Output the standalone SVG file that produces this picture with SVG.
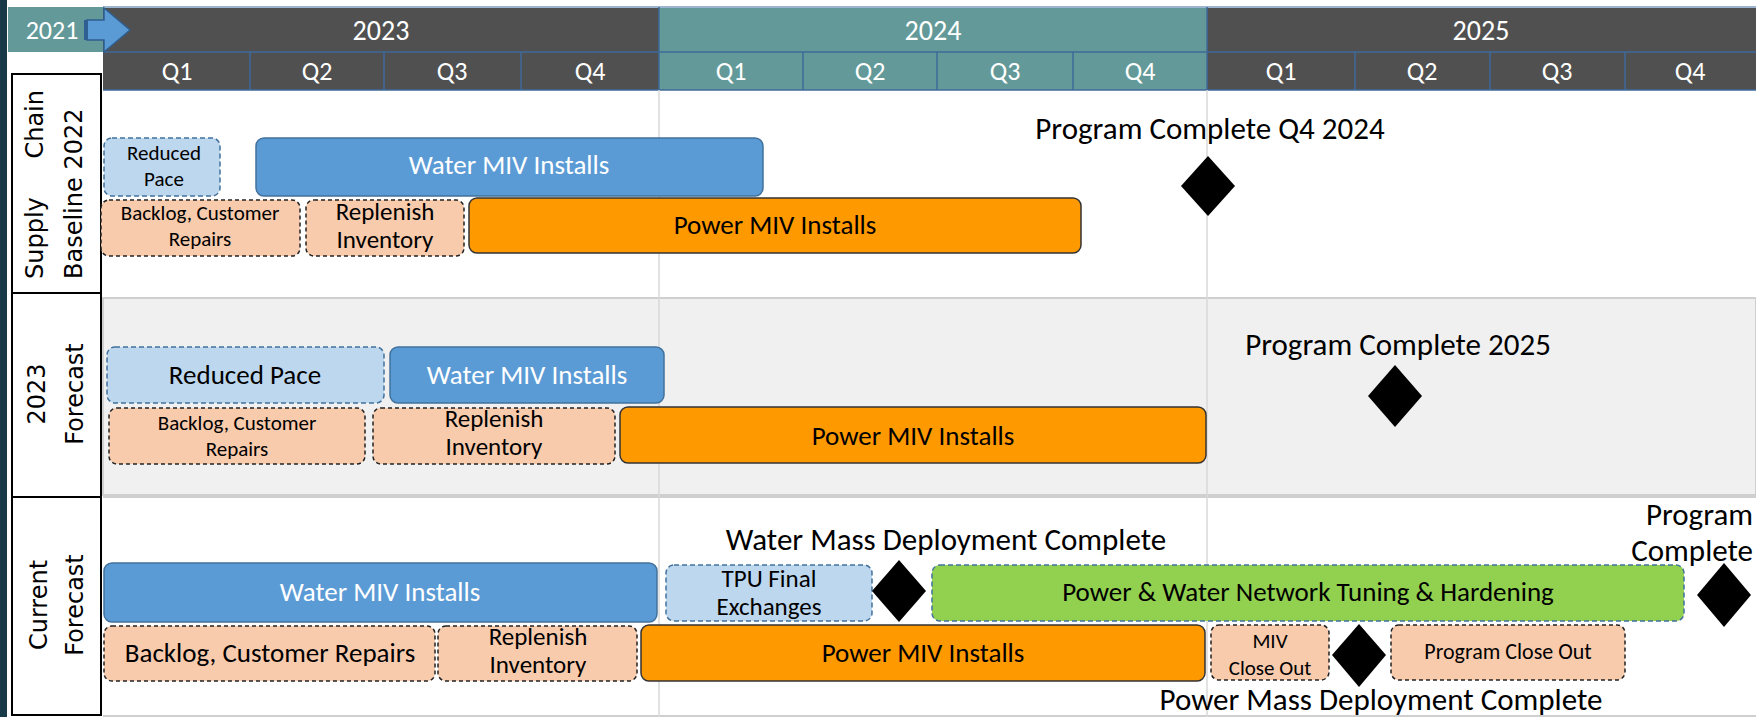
<svg xmlns="http://www.w3.org/2000/svg" width="1756" height="717" viewBox="0 0 1756 717">
<style>
text{font-family:Carlito,"Liberation Sans Narrow","Liberation Sans",sans-serif;}
.hdr{fill:#fff;font-size:28px;text-anchor:middle}
.q{fill:#fff;font-size:26px;text-anchor:middle}
.lbl{font-family:"DejaVu Sans",Verdana,sans-serif;font-size:24px;fill:#000}
.t{text-anchor:middle;fill:#000;font-size:27px}
.s{font-size:21px}
.r{font-size:25px}
.w{fill:#fff}
.ms{font-size:31px;fill:#000}
.lb{fill:#bdd7ee;stroke:#41719c;stroke-width:1.5;stroke-dasharray:5 3}
.bl{fill:#5b9bd5;stroke:#41719c;stroke-width:1.5}
.pc{fill:#f8cbad;stroke:#222;stroke-width:1.5;stroke-dasharray:4 3}
.or{fill:#ff9900;stroke:#333;stroke-width:1.5}
.gr{fill:#92d050;stroke:#41719c;stroke-width:1.5;stroke-dasharray:5 3}
.dm{fill:#000}
.qd{stroke:#3e6a9a;stroke-width:1.5}
</style>
<rect width="1756" height="717" fill="#fff"/>
<rect x="0" y="0" width="7" height="717" fill="#183a48"/>

<!-- header -->
<g id="header">
  <rect x="103" y="8" width="556" height="44" fill="#505050"/>
  <rect x="659" y="8" width="548" height="44" fill="#639a99"/>
  <rect x="1207" y="8" width="549" height="44" fill="#505050"/>
  <rect x="103" y="52" width="556" height="38" fill="#505050"/>
  <rect x="659" y="52" width="548" height="38" fill="#639a99"/>
  <rect x="1207" y="52" width="549" height="38" fill="#505050"/>
  <line x1="103" y1="7" x2="1756" y2="7" stroke="#7a9cc0" stroke-width="1.5"/>
  <line x1="103" y1="52" x2="1756" y2="52" class="qd"/>
  <line x1="103" y1="90" x2="1756" y2="90" class="qd"/>
  <line x1="659" y1="7" x2="659" y2="90" class="qd"/>
  <line x1="1207" y1="7" x2="1207" y2="90" class="qd"/>
  <line x1="250" y1="52" x2="250" y2="90" class="qd"/>
  <line x1="384" y1="52" x2="384" y2="90" class="qd"/>
  <line x1="521" y1="52" x2="521" y2="90" class="qd"/>
  <line x1="803" y1="52" x2="803" y2="90" class="qd"/>
  <line x1="937" y1="52" x2="937" y2="90" class="qd"/>
  <line x1="1073" y1="52" x2="1073" y2="90" class="qd"/>
  <line x1="1355" y1="52" x2="1355" y2="90" class="qd"/>
  <line x1="1490" y1="52" x2="1490" y2="90" class="qd"/>
  <line x1="1625" y1="52" x2="1625" y2="90" class="qd"/>
  <text class="hdr" x="381" y="40">2023</text>
  <text class="hdr" x="933" y="40">2024</text>
  <text class="hdr" x="1481" y="40">2025</text>
  <text class="q" x="177" y="80">Q1</text>
  <text class="q" x="317" y="80">Q2</text>
  <text class="q" x="452" y="80">Q3</text>
  <text class="q" x="590" y="80">Q4</text>
  <text class="q" x="731" y="80">Q1</text>
  <text class="q" x="870" y="80">Q2</text>
  <text class="q" x="1005" y="80">Q3</text>
  <text class="q" x="1140" y="80">Q4</text>
  <text class="q" x="1281" y="80">Q1</text>
  <text class="q" x="1422" y="80">Q2</text>
  <text class="q" x="1557" y="80">Q3</text>
  <text class="q" x="1690" y="80">Q4</text>
</g>
<g id="start2021">
  <rect x="8" y="7" width="95" height="45" fill="#639a99"/>
  <text x="52" y="39" style="fill:#fff;font-size:26px;text-anchor:middle">2021</text>
  <polygon points="87,20 104,20 104,8 130,30 104,52 104,40 87,40" fill="#5b9bd5" stroke="#2f5f90" stroke-width="1.5"/>
  <rect x="84" y="20" width="4" height="20" fill="#2f5f90"/>
</g>

<!-- row backgrounds -->
<rect x="103" y="298" width="1653" height="197" fill="#f0f0f0" stroke="#cfcfcf" stroke-width="2"/>
<line x1="103" y1="497" x2="1756" y2="497" stroke="#cfcfcf" stroke-width="2"/>
<line x1="103" y1="716" x2="1756" y2="716" stroke="#cfcfcf" stroke-width="2"/>
<line x1="659" y1="90" x2="659" y2="717" stroke="#d9d9d9" stroke-width="1.5"/>
<line x1="1207" y1="90" x2="1207" y2="717" stroke="#d9d9d9" stroke-width="1.5"/>

<!-- row labels -->
<g id="label-row1">
  <rect x="12" y="74" width="89" height="219" fill="#fff" stroke="#000" stroke-width="2"/>
  <text class="lbl" transform="rotate(-90)"><tspan x="-279" y="43">Supply</tspan><tspan x="-90" y="43" text-anchor="end">Chain</tspan><tspan x="-279" y="82">Baseline 2022</tspan></text>
</g>
<g id="label-row2">
  <rect x="12" y="293" width="89" height="204" fill="#fff" stroke="#000" stroke-width="2"/>
  <text class="lbl" transform="rotate(-90)" text-anchor="middle"><tspan x="-394" y="45">2023</tspan><tspan x="-394" y="83">Forecast</tspan></text>
</g>
<g id="label-row3">
  <rect x="12" y="497" width="89" height="218" fill="#fff" stroke="#000" stroke-width="2"/>
  <text class="lbl" transform="rotate(-90)" text-anchor="middle"><tspan x="-605" y="47">Current</tspan><tspan x="-605" y="83">Forecast</tspan></text>
</g>

<!-- row 1 -->
<g id="r1-reduced"><rect class="lb" x="104" y="138" width="116" height="58" rx="8"/><text class="t s"><tspan x="164" y="160">Reduced</tspan><tspan x="164" y="186">Pace</tspan></text></g>
<g id="r1-water"><rect class="bl" x="256" y="138" width="507" height="58" rx="8"/><text class="t w" x="509" y="174">Water MIV Installs</text></g>
<g id="r1-backlog"><rect class="pc" x="101" y="200" width="199" height="56" rx="8"/><text class="t s"><tspan x="200" y="220">Backlog, Customer</tspan><tspan x="200" y="246">Repairs</tspan></text></g>
<g id="r1-replenish"><rect class="pc" x="306" y="200" width="158" height="56" rx="8"/><text class="t r"><tspan x="385" y="220">Replenish</tspan><tspan x="385" y="248">Inventory</tspan></text></g>
<g id="r1-power"><rect class="or" x="469" y="198" width="612" height="55" rx="8"/><text class="t" x="775" y="234">Power MIV Installs</text></g>
<g id="r1-ms"><text class="t ms" x="1210" y="139">Program Complete Q4 2024</text><polygon class="dm" points="1208,156 1235,186 1208,216 1181,186"/></g>

<!-- row 2 -->
<g id="r2-reduced"><rect class="lb" x="107" y="347" width="277" height="56" rx="8"/><text class="t" x="245" y="384">Reduced Pace</text></g>
<g id="r2-water"><rect class="bl" x="390" y="347" width="274" height="56" rx="8"/><text class="t w" x="527" y="384">Water MIV Installs</text></g>
<g id="r2-backlog"><rect class="pc" x="109" y="408" width="256" height="56" rx="8"/><text class="t s"><tspan x="237" y="430">Backlog, Customer</tspan><tspan x="237" y="456">Repairs</tspan></text></g>
<g id="r2-replenish"><rect class="pc" x="373" y="408" width="242" height="56" rx="8"/><text class="t r"><tspan x="494" y="427">Replenish</tspan><tspan x="494" y="455">Inventory</tspan></text></g>
<g id="r2-power"><rect class="or" x="620" y="407" width="586" height="56" rx="8"/><text class="t" x="913" y="445">Power MIV Installs</text></g>
<g id="r2-ms"><text class="t ms" x="1398" y="355">Program Complete 2025</text><polygon class="dm" points="1395,365 1422,396 1395,427 1368,396"/></g>

<!-- row 3 -->
<g id="r3-water"><rect class="bl" x="104" y="563" width="553" height="59" rx="8"/><text class="t w" x="380" y="601">Water MIV Installs</text></g>
<g id="r3-tpu"><rect class="lb" x="666" y="565" width="206" height="56" rx="8"/><text class="t r"><tspan x="769" y="587">TPU Final</tspan><tspan x="769" y="615">Exchanges</tspan></text></g>
<g id="r3-wmdc"><text class="t ms" x="946" y="550">Water Mass Deployment Complete</text><polygon class="dm" points="899,560 926,591 899,622 872,591"/></g>
<g id="r3-tuning"><rect class="gr" x="932" y="565" width="752" height="56" rx="8"/><text class="t" x="1308" y="601">Power &amp; Water Network Tuning &amp; Hardening</text></g>
<g id="r3-pc"><text class="ms" text-anchor="end"><tspan x="1753" y="525">Program</tspan><tspan x="1753" y="561">Complete</tspan></text><polygon class="dm" points="1724,563 1751,595 1724,627 1697,595"/></g>
<g id="r3-backlog"><rect class="pc" x="104" y="626" width="331" height="55" rx="8"/><text class="t" x="270" y="662">Backlog, Customer Repairs</text></g>
<g id="r3-replenish"><rect class="pc" x="438" y="626" width="199" height="55" rx="8"/><text class="t r"><tspan x="538" y="645">Replenish</tspan><tspan x="538" y="673">Inventory</tspan></text></g>
<g id="r3-power"><rect class="or" x="641" y="625" width="564" height="56" rx="8"/><text class="t" x="923" y="662">Power MIV Installs</text></g>
<g id="r3-mivclose"><rect class="pc" x="1211" y="625" width="118" height="55" rx="8"/><text class="t s"><tspan x="1270" y="648">MIV</tspan><tspan x="1270" y="675">Close Out</tspan></text></g>
<g id="r3-pmdc"><polygon class="dm" points="1359,624 1386,655 1359,687 1332,655"/><text class="t ms" x="1381" y="710">Power Mass Deployment Complete</text></g>
<g id="r3-closeout"><rect class="pc" x="1391" y="625" width="234" height="55" rx="8"/><text class="t" x="1508" y="659" style="font-size:22px">Program Close Out</text></g>
</svg>
